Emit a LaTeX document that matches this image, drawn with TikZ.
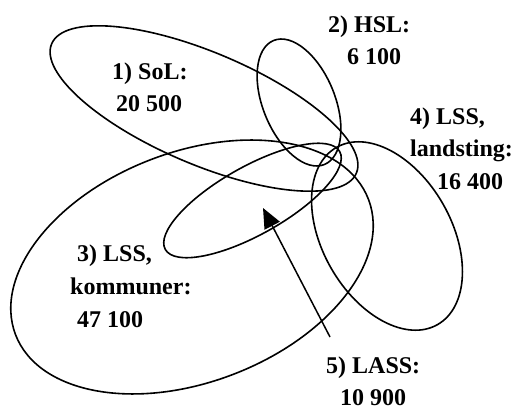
\documentclass[tikz,border=0pt]{standalone}
\usepackage{fontspec}
\setmainfont{Liberation Serif}
\usetikzlibrary{shapes.geometric,arrows.meta}
\tikzset{
  set/.style={ellipse,draw,line width=1.6pt,inner sep=0pt,outer sep=0pt},
  lbl/.style={anchor=base west,inner sep=0pt,font=\fontsize{24}{32}\selectfont\bfseries},
  pointer/.style={line width=1.5pt,-{Triangle[length=20pt,width=17pt]}}
}
\begin{document}
\begin{tikzpicture}[x=1pt,y=1pt]
\useasboundingbox (0,0) rectangle (519,407);
% ellipses
\node[set,minimum width=331pt,minimum height=112pt,rotate=-23] (sol) at (204,298.5) {};
\node[set,minimum width=134pt,minimum height=72pt,rotate=-67.7] (hsl) at (299,304.5) {};
\node[set,minimum width=378pt,minimum height=230pt,rotate=21] (komm) at (192,140) {};
\node[set,minimum width=204pt,minimum height=129pt,rotate=-60.3] (land) at (387,171) {};
\node[set,minimum width=200pt,minimum height=68pt,rotate=29.3] (lass) at (252.5,206.5) {};
% labels
\node[lbl] (t1a) at (112,327) {1) SoL:};
\node[lbl] (t1b) at (116,295) {20 500};
\node[lbl] (t2a) at (328,374) {2) HSL:};
\node[lbl] (t2b) at (347,342) {6 100};
\node[lbl] (t4a) at (410,282) {4) LSS,};
\node[lbl] (t4b) at (410,250) {landsting:};
\node[lbl] (t4c) at (437,217) {16 400};
\node[lbl] (t3a) at (77,145) {3) LSS,};
\node[lbl] (t3b) at (70,112) {kommuner:};
\node[lbl] (t3c) at (77,80) {47 100};
\node[lbl] (t5a) at (326,34) {5) LASS:};
\node[lbl] (t5b) at (340,2) {10 900};
% arrow
\coordinate (as) at (330,70);
\coordinate (ae) at (263,199);
\draw[pointer] (as) -- (ae);
\end{tikzpicture}
\end{document}
